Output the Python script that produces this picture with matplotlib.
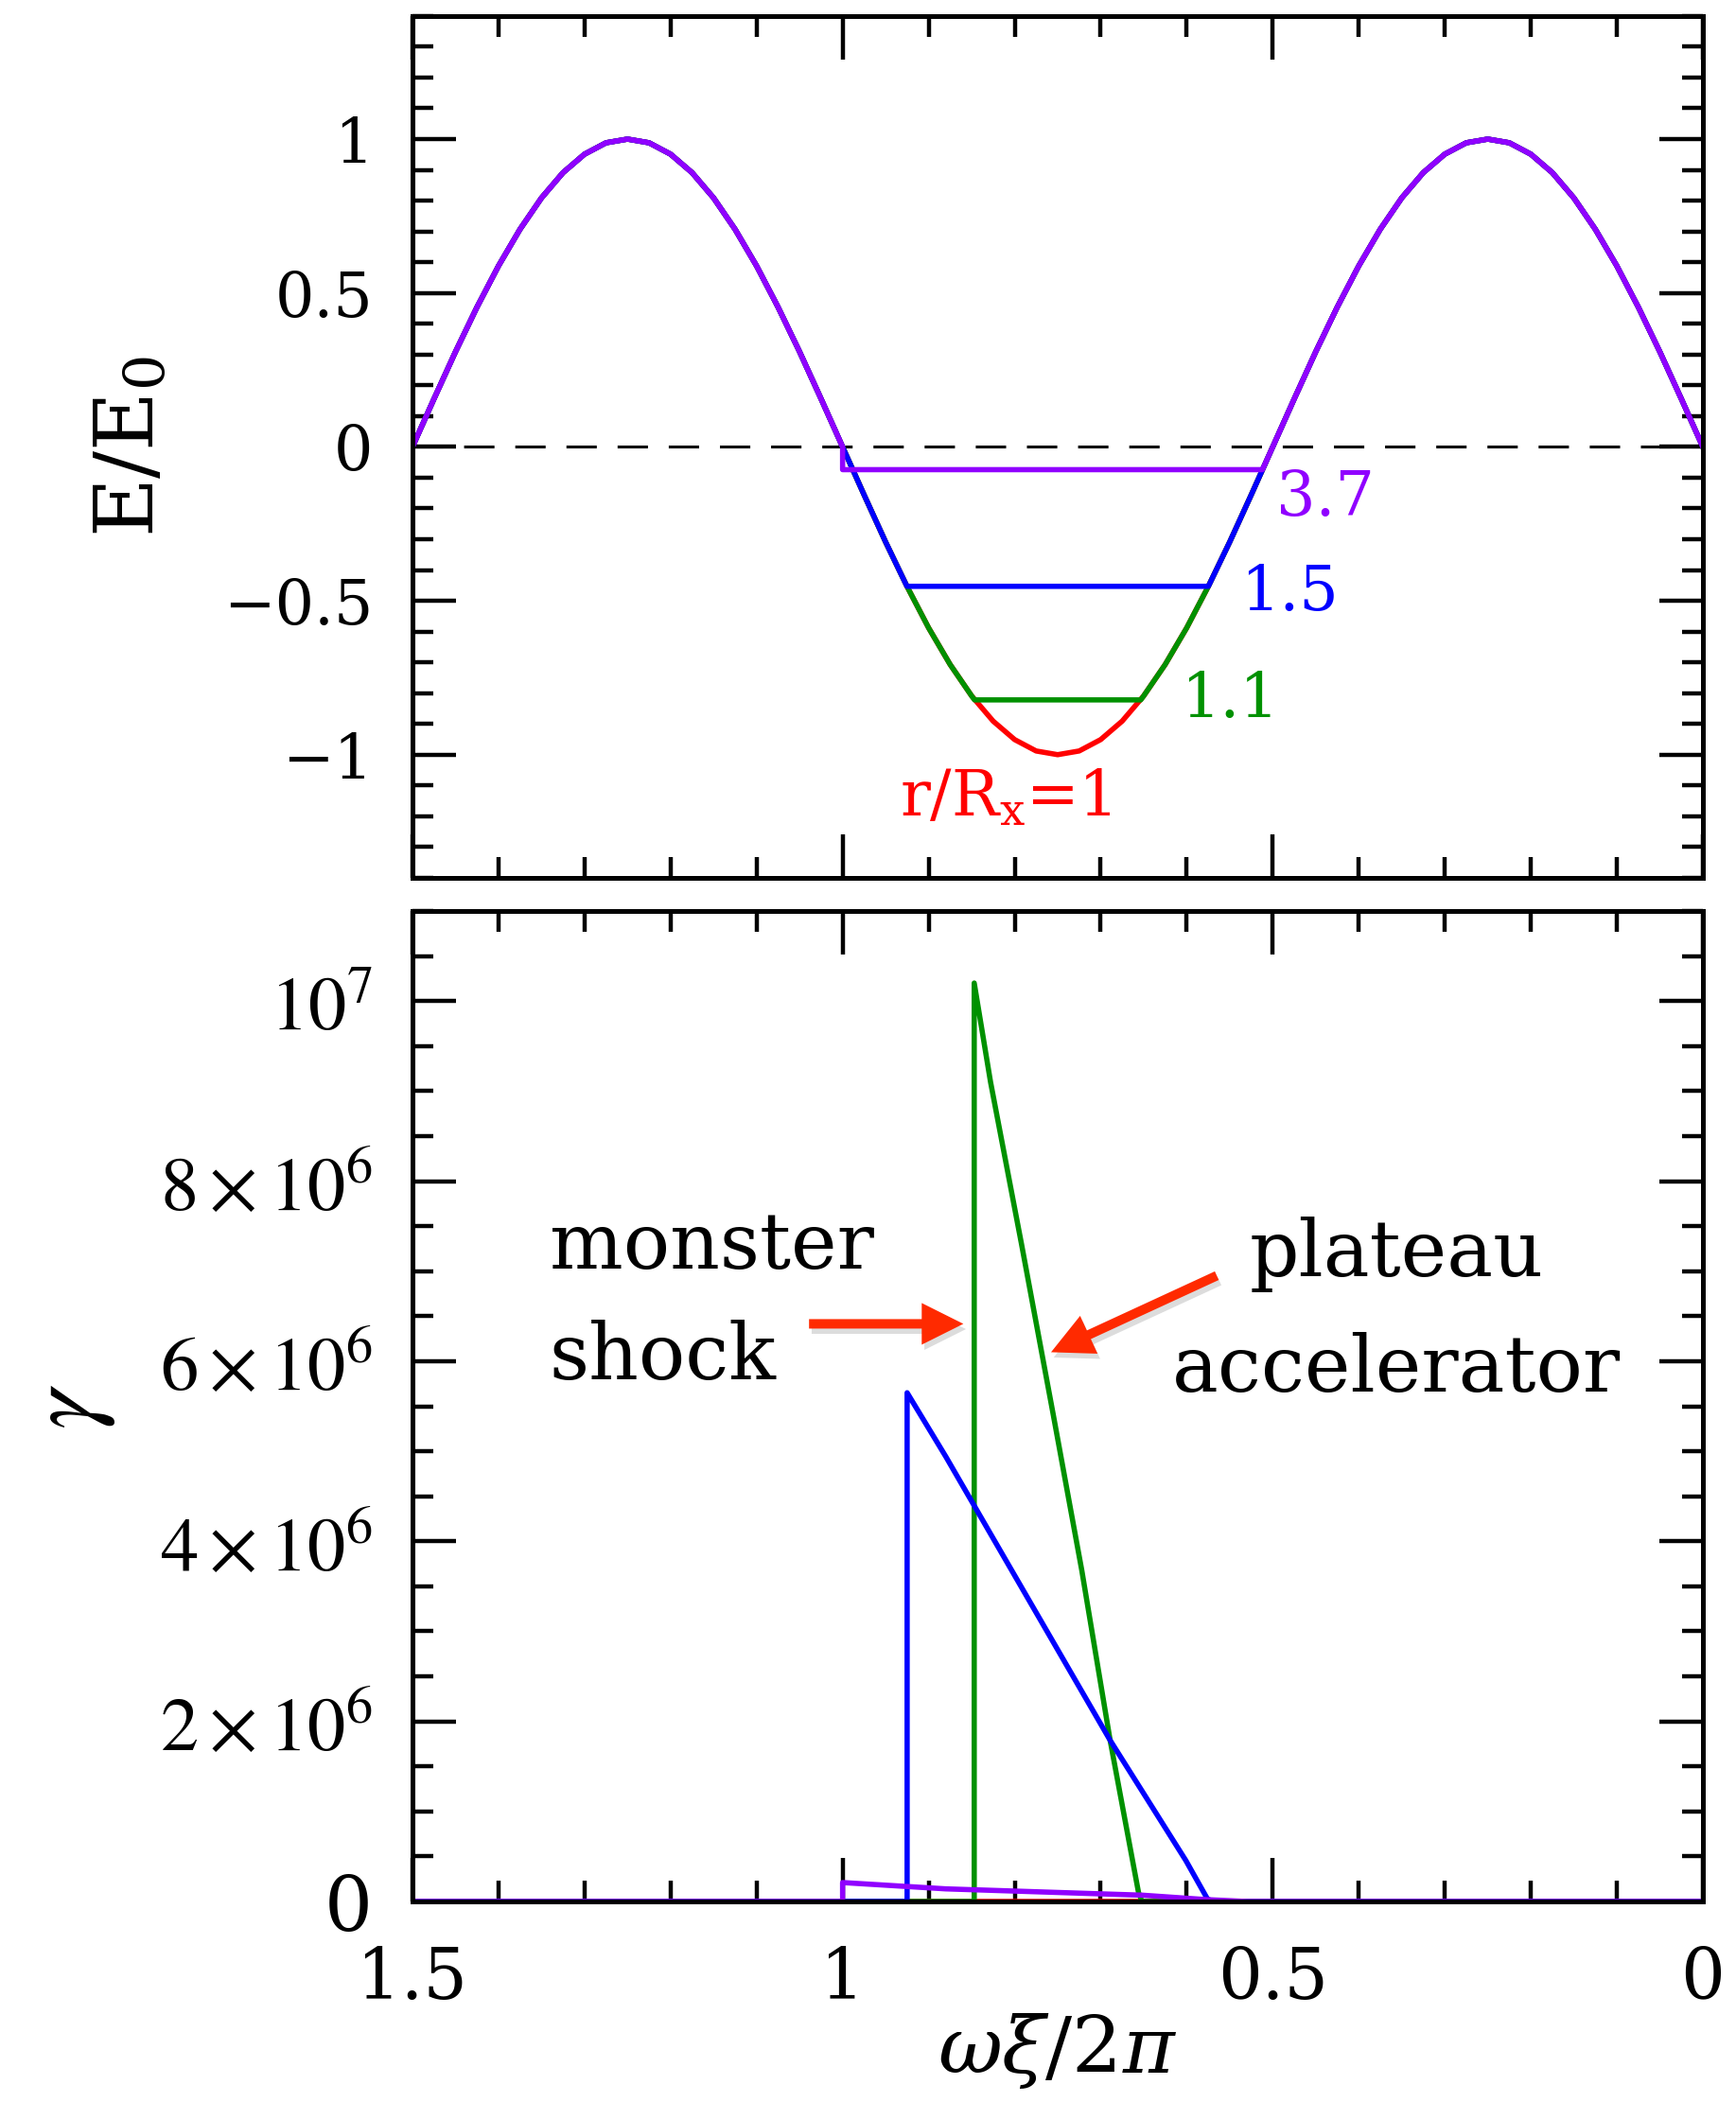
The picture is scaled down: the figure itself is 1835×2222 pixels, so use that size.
import numpy as np
import matplotlib
matplotlib.use('Agg')
import matplotlib.pyplot as plt
import matplotlib.patheffects as pe
from matplotlib.ticker import MultipleLocator

plt.rcParams['font.family'] = ['DejaVu Serif']
plt.rcParams['mathtext.fontset'] = 'dejavuserif'

# ---- top panel: E/E0 against omega*xi/2pi (grid 1.5 -> 0, step 0.025) ----
phase = np.round(np.linspace(1.5, 0.0, 61), 4)
E_wave = [0.0, 0.156, 0.309, 0.454, 0.588, 0.707, 0.809, 0.891, 0.951, 0.988,
          1.0, 0.988, 0.951, 0.891, 0.809, 0.707, 0.588, 0.454, 0.309, 0.156,
          0.0, -0.156, -0.309, -0.454, -0.588, -0.707, -0.809, -0.891, -0.951, -0.988,
          -1.0, -0.988, -0.951, -0.891, -0.809, -0.707, -0.588, -0.454, -0.309, -0.156,
          0.0, 0.156, 0.309, 0.454, 0.588, 0.707, 0.809, 0.891, 0.951, 0.988,
          1.0, 0.988, 0.951, 0.891, 0.809, 0.707, 0.588, 0.454, 0.309, 0.156, 0.0]

# flat part of E for each radius: (phase start, phase end, level)
plateau_11 = (0.8466, 0.6534, -0.822)
plateau_15 = (0.9252, 0.5748, -0.453)
plateau_37 = (1.0, 0.512, -0.074)

E_ticks = [-1.0, -0.5, 0.0, 0.5, 1.0]
E_ticklabels = ['\u22121', '\u22120.5', '0', '0.5', '1']

# ---- bottom panel: gamma ----
g_red_x = [1.5, 0.0]
g_red = [0.0, 0.0]
g_green_x = [1.5, 0.847, 0.847, 0.828, 0.792, 0.755, 0.722, 0.689, 0.656, 0.652, 0.0]
g_green = [0.0, 0.0, 10.2e6, 9.1e6, 7.3e6, 5.4e6, 3.68e6, 1.79e6, 0.1e6, 0.0, 0.0]
g_blue_x = [1.5, 0.925, 0.925, 0.880, 0.689, 0.601, 0.576, 0.570, 0.0]
g_blue = [0.0, 0.0, 5.65e6, 4.94e6, 1.79e6, 0.455e6, 0.03e6, 0.0, 0.0]
g_purple_x = [1.5, 1.0, 1.0, 0.88, 0.652, 0.576, 0.53, 0.0]
g_purple = [0.0, 0.0, 0.21e6, 0.14e6, 0.07e6, 0.02e6, 0.0, 0.0]

g_ticks = [0, 2e6, 4e6, 6e6, 8e6, 1e7]
g_ticklabels = ['0', r'$2\times10^{6}$', r'$4\times10^{6}$', r'$6\times10^{6}$',
                r'$8\times10^{6}$', r'$10^{7}$']

x_ticks = [1.5, 1.0, 0.5, 0.0]
x_ticklabels = ['1.5', '1', '0.5', '0']

RED, GREEN, BLUE, PURPLE = '#ff0000', '#009100', '#0000ff', '#9000ff'
ARROW = '#ff2a00'
LW = 4.0


def cut_wave(p_hi, p_lo, level):
    x = np.asarray(phase)
    e = np.asarray(E_wave)
    left = x >= p_hi - 1e-9
    right = x <= p_lo + 1e-9
    xs = np.concatenate([x[left], [p_hi, p_lo], x[right]])
    es = np.concatenate([e[left], [level, level], e[right]])
    return xs, es


fig = plt.figure(figsize=(18.35, 22.22), dpi=100)
ax1 = fig.add_axes([0.2376, 0.5824, 0.7433, 0.4100])
ax2 = fig.add_axes([0.2376, 0.0954, 0.7433, 0.4712])

# top panel
ax1.axhline(0, color='k', lw=2.2, dashes=(10.5, 7.2), zorder=1.5)
ax1.plot(phase, E_wave, color=RED, lw=LW)
ax1.plot(*cut_wave(*plateau_11), color=GREEN, lw=LW)
ax1.plot(*cut_wave(*plateau_15), color=BLUE, lw=LW)
ax1.plot(*cut_wave(*plateau_37), color=PURPLE, lw=LW)

ax1.text(0.4955, -0.2225, '3.7', color=PURPLE, fontsize=47, va='baseline')
ax1.text(0.538, -0.53, '1.5', color=BLUE, fontsize=47, va='baseline')
ax1.text(0.607, -0.878, '1.1', color=GREEN, fontsize=47, va='baseline')
ax1.text(0.810, -1.20, r'$\mathrm{r/R_x}$=1', color=RED, fontsize=48,
         ha='center', va='baseline')

ax1.set_xlim(1.5, 0.0)
ax1.set_ylim(-1.4, 1.4)
ax1.set_yticks(E_ticks, E_ticklabels)
ax1.yaxis.set_minor_locator(MultipleLocator(0.1))
ax1.set_ylabel(r'$\mathrm{E/E_0}$', fontsize=62, va='center')
ax1.yaxis.set_label_coords(-0.2185, 0.5)

# bottom panel
ax2.plot(g_red_x, g_red, color=RED, lw=LW)
ax2.plot(g_green_x, g_green, color=GREEN, lw=LW)
ax2.plot(g_blue_x, g_blue, color=BLUE, lw=LW)
ax2.plot(g_purple_x, g_purple, color=PURPLE, lw=LW)

ax2.set_xlim(1.5, 0.0)
ax2.set_ylim(0, 1.1e7)
ax2.set_yticks(g_ticks, g_ticklabels, math_fontfamily='stix', fontsize=58)
ax2.yaxis.set_minor_locator(MultipleLocator(5e5))
ax2.set_ylabel(r'$\gamma$', fontsize=76, math_fontfamily='stix', va='center')
ax2.yaxis.set_label_coords(-0.2665, 0.5)
ax2.set_xlabel(r'$\omega\xi/2\pi$', fontsize=60, va='center')
ax2.xaxis.set_label_coords(0.5, -0.151)

ax2.text(1.341, 7.03e6, 'monster', fontsize=59, va='baseline')
ax2.text(1.341, 5.795e6, 'shock', fontsize=59, va='baseline')
ax2.text(0.356, 6.95e6, 'plateau', fontsize=59, ha='center', va='baseline')
ax2.text(0.356, 5.66e6, 'accelerator', fontsize=59, ha='center', va='baseline')

shadow = [pe.SimplePatchShadow(offset=(2, -4), shadow_rgbFace='0.55', alpha=0.3), pe.Normal()]
arrow_kw = dict(arrowstyle='simple,head_length=31.7,head_width=31.7,tail_width=7.2',
                mutation_scale=1, color=ARROW, lw=0, shrinkA=0, shrinkB=0,
                path_effects=shadow)
ax2.annotate('', xy=(0.8596, 6.415e6), xytext=(1.039, 6.415e6), arrowprops=arrow_kw)
ax2.annotate('', xy=(0.7577, 6.10e6), xytext=(0.565, 6.95e6), arrowprops=arrow_kw)

for ax in (ax1, ax2):
    ax.set_xticks(x_ticks, x_ticklabels)
    ax.xaxis.set_minor_locator(MultipleLocator(0.1))
    ax.tick_params(which='both', direction='in', top=True, right=True, width=3.2)
    ax.tick_params(which='major', length=33)
    ax.tick_params(which='minor', length=16)
    ax.tick_params(axis='y', pad=30)
    ax.tick_params(axis='x', pad=33)
    for s in ax.spines.values():
        s.set_linewidth(3.6)

ax1.tick_params(axis='y', labelsize=47)
ax1.tick_params(axis='x', labelbottom=False)
ax2.tick_params(axis='x', labelsize=53)

fig.savefig('out.png', dpi=100)
